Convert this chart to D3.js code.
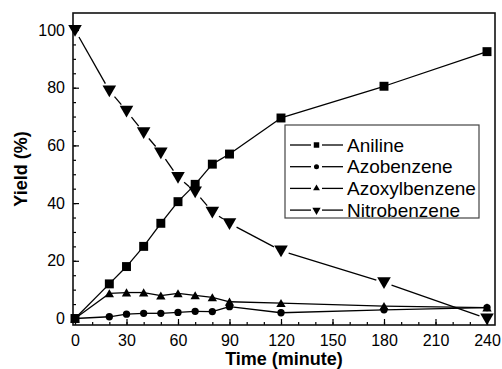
<!DOCTYPE html>
<html>
<head>
<meta charset="utf-8">
<script src="https://cdn.jsdelivr.net/npm/d3@7"></script>
<style>
  body { margin: 0; background: #fff; }
  svg text { font-family: "Liberation Sans", Arial, sans-serif; fill: #000; }
</style>
</head>
<body>
<div id="chart"></div>
<script>
// data
const times = [0, 20, 30, 40, 50, 60, 70, 80, 90, 120, 180, 240];
const aniline = [0, 12, 18, 25, 33, 40.5, 46.5, 53.5, 57, 69.5, 80.5, 92.5];
const azobenzene = [0, 0.6, 1.5, 1.8, 1.8, 2.1, 2.5, 2.4, 4.1, 2.0, 3.0, 3.8];
const azoxylbenzene = [0, 8.7, 9, 9, 7.9, 8.7, 8, 7.3, 5.8, 5.3, 4.3, 3.8];
const nitrobenzene = [100, 79, 72, 64.5, 57.5, 49, 44, 37, 33, 23.5, 12.5, 0];
const seriesNames = ['Aniline', 'Azobenzene', 'Azoxylbenzene', 'Nitrobenzene'];
const xTicks = [0, 30, 60, 90, 120, 150, 180, 210, 240];
const yTicks = [0, 20, 40, 60, 80, 100];

const boxWidth = 502;
const boxHeight = 369;
const frame = { left: 73, right: 495, top: 13, bottom: 325 };

const svg = d3.select('#chart')
  .append('svg')
  .attr('width', boxWidth)
  .attr('height', boxHeight);

const xScale = d3.scaleLinear().domain([0, 240]).range([75, 487]);
const yScale = d3.scaleLinear().domain([0, 100]).range([318.5, 30]);

// minor ticks
svg.append('g')
  .attr('transform', `translate(0, ${frame.bottom})`)
  .call(d3.axisBottom(xScale).tickValues(d3.range(0, 241, 10)).tickSize(-3).tickFormat(''))
  .call(g => g.select('.domain').remove());
svg.append('g')
  .attr('transform', `translate(${frame.left}, 0)`)
  .call(d3.axisLeft(yScale).tickValues(d3.range(0, 101, 5)).tickSize(-3).tickFormat(''))
  .call(g => g.select('.domain').remove());

// major ticks + labels
const xAxisGroup = svg.append('g')
  .attr('transform', `translate(0, ${frame.bottom})`)
  .call(d3.axisBottom(xScale).tickValues(xTicks).tickSize(-6).tickPadding(10))
  .call(g => g.select('.domain').remove());
xAxisGroup.selectAll('text').style('font-size', '16px').attr('dy', '0.71em');

const yAxisGroup = svg.append('g')
  .attr('transform', `translate(${frame.left}, 0)`)
  .call(d3.axisLeft(yScale).tickValues(yTicks).tickSize(-6).tickPadding(8))
  .call(g => g.select('.domain').remove());
yAxisGroup.selectAll('text').style('font-size', '16px');

svg.selectAll('.tick line').attr('stroke', '#000').attr('stroke-width', 1.2);

// frame
svg.append('rect')
  .attr('x', frame.left)
  .attr('y', frame.top)
  .attr('width', frame.right - frame.left)
  .attr('height', frame.bottom - frame.top)
  .attr('fill', 'none')
  .attr('stroke', '#111')
  .attr('stroke-width', 1.6);

// axis titles
svg.append('text')
  .attr('x', (frame.left + frame.right) / 2)
  .attr('y', 365)
  .attr('text-anchor', 'middle')
  .style('font-size', '18px')
  .style('font-weight', 'bold')
  .text('Time (minute)');

svg.append('text')
  .attr('transform', `translate(27, ${(frame.top + frame.bottom) / 2}) rotate(-90)`)
  .attr('text-anchor', 'middle')
  .style('font-size', '18px')
  .style('font-weight', 'bold')
  .text('Yield (%)');

// symbols
const symbols = [
  { type: d3.symbolSquare, size: 80, rot: 0, gap: 0 },
  { type: d3.symbolCircle, size: 42, rot: 0, gap: 0 },
  { type: d3.symbolTriangle, size: 38, rot: 0, gap: 0 },
  { type: d3.symbolTriangle, size: 80, rot: 180, gap: 8 }
];
const allSeries = [aniline, azobenzene, azoxylbenzene, nitrobenzene];

const plot = svg.append('g');
allSeries.forEach((vals, i) => {
  const pts = times.map((t, j) => [xScale(t), yScale(vals[j])]);
  const gap = symbols[i].gap;
  // line segments, shortened near markers where the original leaves a gap
  const segs = d3.pairs(pts).map(([a, b]) => {
    const dx = b[0] - a[0], dy = b[1] - a[1];
    const len = Math.hypot(dx, dy);
    const k = Math.min(gap / len, 0.45);
    return [[a[0] + dx * k, a[1] + dy * k], [b[0] - dx * k, b[1] - dy * k]];
  });
  plot.selectAll(null)
    .data(segs)
    .enter()
    .append('path')
    .attr('fill', 'none')
    .attr('stroke', '#000')
    .attr('stroke-width', 1.3)
    .attr('d', d3.line());
});
allSeries.forEach((vals, i) => {
  const pts = times.map((t, j) => [t, vals[j]]);
  const sym = symbols[i];
  const yOff = sym.type === d3.symbolTriangle ? (sym.rot ? -1.2 : 1.2) : 0;
  plot.selectAll(null)
    .data(pts)
    .enter()
    .append('path')
    .attr('d', d3.symbol().type(sym.type).size(sym.size))
    .attr('transform', d => `translate(${xScale(d[0])}, ${yScale(d[1]) + yOff}) rotate(${sym.rot})`)
    .attr('fill', '#000');
});

// legend
const legend = svg.append('g');
legend.append('rect')
  .attr('x', 285)
  .attr('y', 125)
  .attr('width', 194)
  .attr('height', 93)
  .attr('fill', '#fff')
  .attr('stroke', '#444')
  .attr('stroke-width', 1.2);

const legendSizes = [30, 20, 20, 30];
seriesNames.forEach((name, i) => {
  const ly = 145 + i * 21.7;
  [[290, 311], [322, 343]].forEach(([x1, x2]) => {
    legend.append('line')
      .attr('x1', x1).attr('x2', x2)
      .attr('y1', ly).attr('y2', ly)
      .attr('stroke', '#000')
      .attr('stroke-width', 1.3);
  });
  legend.append('path')
    .attr('d', d3.symbol().type(symbols[i].type).size(legendSizes[i]))
    .attr('transform', `translate(316.5, ${ly}) rotate(${symbols[i].rot})`)
    .attr('fill', '#000');
  legend.append('text')
    .attr('x', 347)
    .attr('y', ly)
    .attr('dy', '0.35em')
    .style('font-size', '19px')
    .text(name);
});
</script>
</body>
</html>
